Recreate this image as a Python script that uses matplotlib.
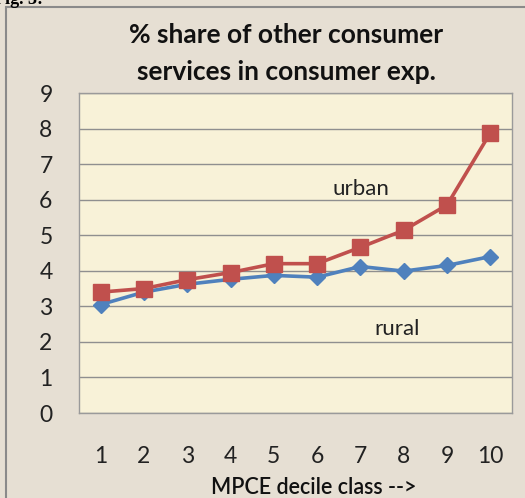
import matplotlib
matplotlib.use("Agg")
import matplotlib.pyplot as plt
from matplotlib.patches import Rectangle

deciles = [1, 2, 3, 4, 5, 6, 7, 8, 9, 10]
urban = [3.40, 3.50, 3.75, 3.95, 4.20, 4.20, 4.66, 5.14, 5.85, 7.88]
rural = [3.05, 3.40, 3.62, 3.76, 3.87, 3.82, 4.12, 3.99, 4.15, 4.40]
yticks = [0, 1, 2, 3, 4, 5, 6, 7, 8, 9]

plt.rcParams['font.family'] = ['Lato', 'DejaVu Sans']

fig = plt.figure(figsize=(5.25, 4.98), dpi=100)
fig.patch.set_facecolor('#e6dfd3')

# outer chart border
fig.patches.append(Rectangle((6/525, -0.1), 1.2, (498-7)/498 + 0.1, transform=fig.transFigure,
                             fill=False, edgecolor='#8a8a8a', linewidth=1.5))
fig.text(-0.012, 1.0, 'Fig. 3:', fontsize=13, fontweight='bold', family='Liberation Serif',
         ha='left', va='center')

ax = fig.add_axes([79/525, 1-413/498, 433/525, 320/498])
ax.set_facecolor('#f8f2d8')
ax.set_xlim(0.5, 10.5)
ax.set_ylim(0, 9)
ax.set_yticks(yticks)
ax.set_xticks(deciles)
ax.grid(axis='y', color='#8f8f8f', linewidth=1.0)
ax.set_axisbelow(True)
for s in ax.spines.values():
    s.set_color('#9a9a9a')
    s.set_linewidth(1.0)
ax.tick_params(axis='both', length=0, labelsize=16.5, colors='#222222')
ax.tick_params(axis='y', pad=19)
ax.tick_params(axis='x', pad=24)

ax.plot(deciles, rural, color='#4f81bd', linewidth=2.6, marker='D', markersize=8,
        zorder=3)
ax.plot(deciles, urban, color='#c0504d', linewidth=2.6, marker='s', markersize=11,
        zorder=4)

ax.text(7.0, 6.3, 'urban', fontsize=16, ha='center', va='center', color='#222222')
ax.text(7.85, 2.35, 'rural', fontsize=16, ha='center', va='center', color='#222222')

fig.text(286/525, 1-35/498, '% share of other consumer', fontsize=19, fontweight='bold',
         ha='center', va='center', color='#111111')
fig.text(286/525, 1-72/498, 'services in consumer exp.', fontsize=19, fontweight='bold',
         ha='center', va='center', color='#111111')
fig.text(314/525, 1-487/498, 'MPCE decile class -->', fontsize=15.5, fontweight='semibold',
         ha='center', va='center', color='#111111')

fig.savefig('out.png', dpi=100, facecolor=fig.get_facecolor())
